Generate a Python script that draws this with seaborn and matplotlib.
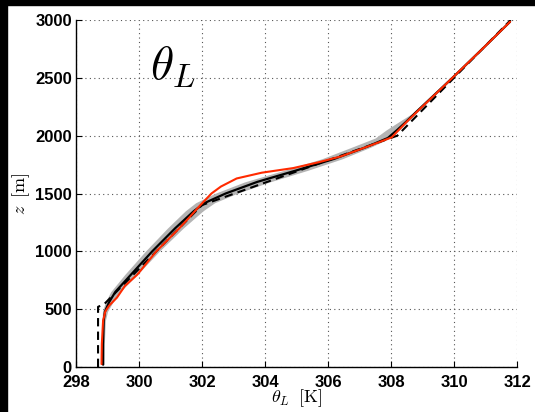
import matplotlib
matplotlib.use("Agg")
import matplotlib.pyplot as plt
from matplotlib.patches import Rectangle
import seaborn as sns
import pandas as pd

# Perfil de referencia (inicial), discontinuo
z_ref = [0, 520, 545, 1400, 2000, 3000]
theta_ref = [298.7, 298.7, 298.9, 302.0, 308.2, 311.8]

# Media del ensemble (negro) y su dispersion (banda gris)
z_mean = [20, 200, 400, 480, 560, 650, 800, 1000, 1200, 1350, 1420, 1500,
          1600, 1700, 1800, 1900, 1980, 2050, 2120, 2200, 2500, 2750, 2985]
theta_mean = [298.86, 298.86, 298.88, 298.92, 299.05, 299.25, 299.75, 300.42,
              301.15, 301.75, 302.10, 302.75, 303.75, 305.00, 306.20, 307.20,
              307.90, 308.20, 308.48, 308.78, 309.95, 310.90, 311.78]
theta_lo = [298.83, 298.82, 298.83, 298.84, 298.93, 299.10, 299.55, 300.20,
            300.90, 301.47, 301.80, 302.40, 303.35, 304.60, 305.80, 306.75,
            307.50, 307.85, 308.25, 308.72, 309.92, 310.88, 311.77]
theta_hi = [298.89, 298.90, 298.93, 299.00, 299.17, 299.40, 299.95, 300.64,
            301.40, 302.03, 302.40, 303.10, 304.15, 305.35, 306.45, 307.35,
            307.98, 308.26, 308.52, 308.82, 309.98, 310.92, 311.79]

# Segundo modelo (rojo)
z_red = [25, 200, 400, 480, 530, 600, 700, 800, 1000, 1200, 1300, 1400, 1500,
         1560, 1630, 1680, 1720, 1770, 1820, 1900, 1985, 2050, 2120, 2200,
         2500, 2750, 2985]
theta_red = [298.81, 298.82, 298.86, 298.93, 299.05, 299.30, 299.55, 299.95,
             300.55, 301.28, 301.62, 301.95, 302.30, 302.60, 303.10, 303.90,
             304.90, 305.70, 306.40, 307.20, 308.02, 308.25, 308.50, 308.80,
             309.95, 310.90, 311.78]

x_ticks = [298, 300, 302, 304, 306, 308, 310, 312]
y_ticks = [0, 500, 1000, 1500, 2000, 2500, 3000]

sns.set_style("ticks")
plt.rcParams['font.family'] = ['Liberation Sans', 'DejaVu Sans']
plt.rcParams['mathtext.fontset'] = 'cm'

fig = plt.figure(figsize=(5.35, 4.12), dpi=100)
ax = fig.add_axes([76 / 535, 1 - 367 / 412, 441 / 535, 347 / 412])

ax.fill_betweenx(z_mean, theta_lo, theta_hi, color='#b4b4b4', lw=0, zorder=2)

df_ref = pd.DataFrame({'theta': theta_ref, 'z': z_ref})
df_mean = pd.DataFrame({'theta': theta_mean, 'z': z_mean})
df_red = pd.DataFrame({'theta': theta_red, 'z': z_red})

sns.lineplot(data=df_mean, x='theta', y='z', sort=False, estimator=None,
             color='black', lw=1.6, ax=ax, zorder=3)
sns.lineplot(data=df_ref, x='theta', y='z', sort=False, estimator=None,
             color='black', lw=1.5, ax=ax, zorder=4)
ax.lines[-1].set_linestyle((0, (4, 2.5)))
sns.lineplot(data=df_red, x='theta', y='z', sort=False, estimator=None,
             color='#ff2a00', lw=1.5, ax=ax, zorder=5)

ax.set_xlim(298, 312)
ax.set_ylim(0, 3000)
ax.set_xticks(x_ticks)
ax.set_yticks(y_ticks)
ax.set_xticklabels([str(t) for t in x_ticks], fontweight='bold', fontsize=12)
ax.set_yticklabels([str(t) for t in y_ticks], fontweight='bold', fontsize=12)
ax.tick_params(axis='both', direction='in', length=4, width=0.8,
               colors='black', labelcolor='black')
ax.tick_params(axis='x', pad=6)
ax.tick_params(axis='y', pad=3)

ax.grid(True, linestyle=(0, (1, 3)), color='#555555', lw=0.8, zorder=0)
sns.despine(ax=ax)
for s in ['left', 'bottom']:
    ax.spines[s].set_linewidth(1.0)
    ax.spines[s].set_color('black')

ax.set_xlabel(r'$\theta_L\;\;[\mathrm{K}]$', fontsize=13, labelpad=-2, color='black')
ax.set_ylabel(r'$z\;\;[\mathrm{m}]$', fontsize=13, labelpad=2, color='black')

ax.text(300.35, 2600, r'$\theta_L$', fontsize=34, ha='left', va='center', color='black')

# bordes negros de la captura original
fig.patches.append(Rectangle((0, 1 - 5 / 412), 1, 5 / 412, transform=fig.transFigure,
                             color='black', zorder=10))
fig.patches.append(Rectangle((0, 0), 7 / 535, 1, transform=fig.transFigure,
                             color='black', zorder=10))

fig.savefig('out.png', dpi=100)
